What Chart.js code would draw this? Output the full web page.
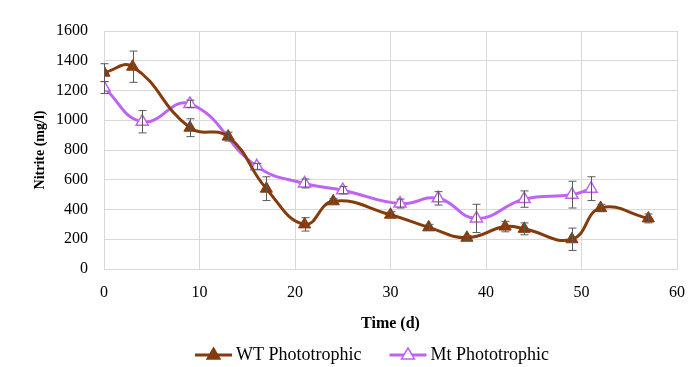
<!DOCTYPE html>
<html>
<head>
<meta charset="utf-8">
<script src="https://cdn.jsdelivr.net/npm/chart.js@4.4.0/dist/chart.umd.min.js"></script>
<style>
html,body{margin:0;padding:0;background:#fff;}
#wrap{width:699px;height:367px;position:relative;}
</style>
</head>
<body>
<div id="wrap"><canvas id="c" width="699" height="367"></canvas></div>
<script>
const wtDays = [0, 3, 9, 13, 17, 21, 24, 30, 34, 38, 42, 44, 49, 52, 57];
const wtValues = [1320, 1360, 950, 890, 540, 300, 455, 365, 280, 210, 285, 270, 200, 410, 340];
const wtErrors = [60, 105, 60, 30, 80, 45, 20, 20, 20, 15, 35, 40, 75, 25, 30];

const mtDays = [0, 4, 9, 16, 21, 25, 31, 35, 39, 44, 49, 51];
const mtValues = [1220, 990, 1110, 690, 575, 530, 440, 475, 340, 470, 500, 540];
const mtErrors = [40, 75, 25, 20, 30, 25, 30, 45, 95, 55, 90, 80];

const xTicks = [0, 10, 20, 30, 40, 50, 60];
const yTicks = [0, 200, 400, 600, 800, 1000, 1200, 1400, 1600];

const seriesNames = ['WT Phototrophic', 'Mt Phototrophic'];
const wtColor = '#843c0c';
const mtColor = '#bf63f5';
const FONT = "'Liberation Serif', 'Times New Roman', serif";

const errorBars = {
  id: 'errorBars',
  afterDatasetsDraw(chart) {
    const ctx = chart.ctx;
    const xs = chart.scales.x, ys = chart.scales.y;
    const sets = [[wtDays, wtValues, wtErrors], [mtDays, mtValues, mtErrors]];
    ctx.save();
    ctx.strokeStyle = '#595959';
    ctx.lineWidth = 1;
    sets.forEach(([d, v, e]) => {
      d.forEach((day, i) => {
        const x = Math.round(xs.getPixelForValue(day)) + 0.5;
        const yt = ys.getPixelForValue(v[i] + e[i]);
        const yb = ys.getPixelForValue(v[i] - e[i]);
        ctx.beginPath();
        ctx.moveTo(x, yt); ctx.lineTo(x, yb);
        ctx.moveTo(x - 4, yt); ctx.lineTo(x + 4, yt);
        ctx.moveTo(x - 4, yb); ctx.lineTo(x + 4, yb);
        ctx.stroke();
      });
    });
    ctx.restore();
  }
};

// Legend drawn as line + triangle marker, like the reference
const lineLegend = {
  id: 'lineLegend',
  afterDraw(chart) {
    const ctx = chart.ctx;
    const items = chart.data.datasets.map(ds => ({
      text: ds.label, color: ds.borderColor, fill: ds.pointBackgroundColor
    }));
    const iconW = 37, textGap = 4, itemGap = 28;
    ctx.save();
    ctx.font = '18px ' + FONT;
    const widths = items.map(it => iconW + textGap + ctx.measureText(it.text).width);
    const total = widths.reduce((a, b) => a + b, 0) + itemGap * (items.length - 1);
    const center = 372;
    let x = center - total / 2;
    const y = 355;
    items.forEach((it, i) => {
      ctx.strokeStyle = it.color; ctx.lineWidth = 3;
      ctx.beginPath(); ctx.moveTo(x, y); ctx.lineTo(x + iconW, y); ctx.stroke();
      const cx = x + iconW / 2;
      ctx.beginPath(); ctx.moveTo(cx, y - 7); ctx.lineTo(cx + 6.5, y + 4); ctx.lineTo(cx - 6.5, y + 4); ctx.closePath();
      ctx.fillStyle = it.fill; ctx.fill();
      ctx.lineWidth = 1.5; ctx.stroke();
      ctx.fillStyle = '#000';
      ctx.textBaseline = 'middle';
      ctx.textAlign = 'left';
      ctx.fillText(it.text, x + iconW + textGap, y);
      x += widths[i] + itemGap;
    });
    ctx.restore();
  }
};

new Chart(document.getElementById('c'), {
  type: 'line',
  data: {
    datasets: [
      {
        label: seriesNames[0],
        data: wtDays.map((d, i) => ({x: d, y: wtValues[i]})),
        borderColor: wtColor,
        backgroundColor: wtColor,
        borderWidth: 3,
        pointStyle: 'triangle',
        pointRadius: 7,
        pointBorderWidth: 1,
        pointBackgroundColor: wtColor,
        pointBorderColor: wtColor,
        tension: 0.45
      },
      {
        label: seriesNames[1],
        data: mtDays.map((d, i) => ({x: d, y: mtValues[i]})),
        borderColor: mtColor,
        backgroundColor: '#fff',
        borderWidth: 3,
        pointStyle: 'triangle',
        pointRadius: 7,
        pointBorderWidth: 1.5,
        pointBackgroundColor: '#fff',
        pointBorderColor: mtColor,
        tension: 0.45
      }
    ]
  },
  options: {
    responsive: false,
    animation: false,
    devicePixelRatio: 1,
    layout: { padding: { left: 0, right: 21, top: 31, bottom: 34 } },
    plugins: {
      tooltip: { enabled: false },
      legend: { display: false }
    },
    scales: {
      x: {
        type: 'linear',
        min: 0, max: 60,
        afterBuildTicks(s) { s.ticks = xTicks.map(v => ({value: v})); },
        ticks: { font: { family: FONT, size: 16 }, color: '#000', padding: 14 },
        grid: { color: '#d9d9d9', drawTicks: false },
        border: { color: '#d9d9d9' },
        title: { display: true, text: 'Time (d)', font: { family: FONT, size: 16, weight: 'bold' }, color: '#000', padding: { top: 4, bottom: 0 } },
        afterFit(s) { s.height = 64; }
      },
      y: {
        min: 0, max: 1600,
        afterBuildTicks(s) { s.ticks = yTicks.map(v => ({value: v})); },
        ticks: { font: { family: FONT, size: 16 }, color: '#000', padding: 16, callback: v => String(v) },
        grid: { color: '#d9d9d9', drawTicks: false },
        border: { color: '#d9d9d9' },
        title: { display: true, text: 'Nitrite (mg/l)', font: { family: FONT, size: 14, weight: 'bold' }, color: '#000', padding: { top: 32, bottom: 6 } },
        afterFit(s) { s.width = 104; }
      }
    }
  },
  plugins: [errorBars, lineLegend]
});
</script>
</body>
</html>
